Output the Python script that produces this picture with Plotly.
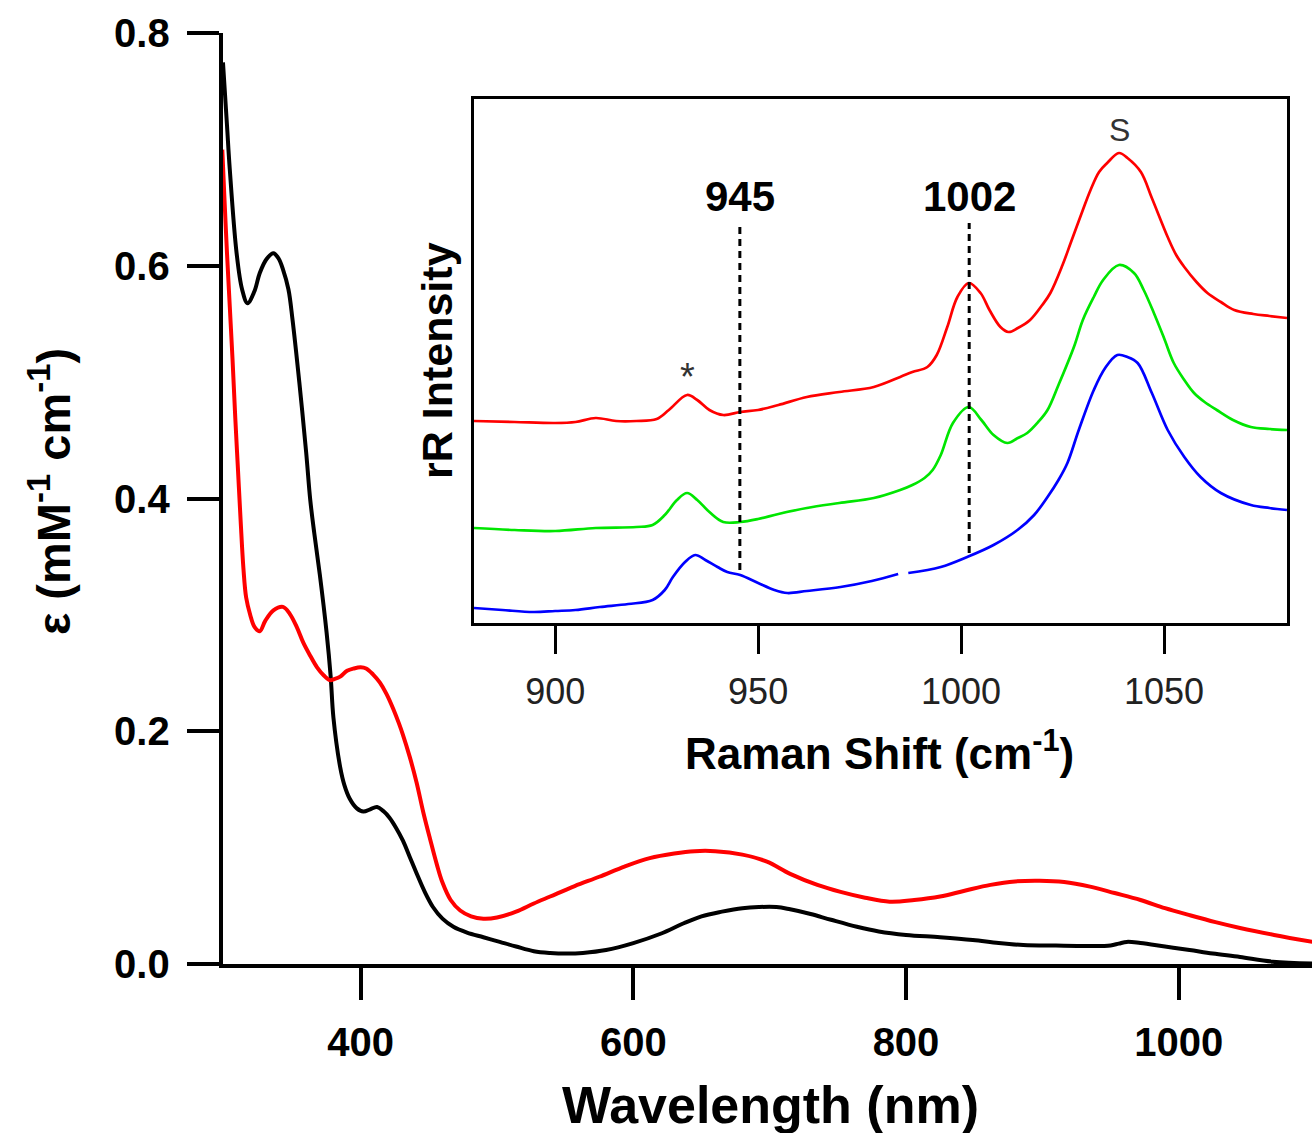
import plotly.graph_objects as go

W, H = 1312, 1133

# ---------------- Main UV-vis data ----------------
wl_black = [299, 302, 304, 309, 313, 317, 322, 326, 331, 336, 340, 343, 347, 350, 355, 360, 363, 366, 370,
            375, 378, 380, 385, 388, 392, 397, 402, 407, 412, 417, 421, 426, 431, 436, 441, 447, 453, 460,
            468, 478, 490, 502, 514, 527, 539, 551, 563, 580, 600, 620, 637, 650, 665, 680, 692, 705, 715,
            730, 745, 764, 780, 800, 825, 849, 868, 886, 910, 935, 950, 956, 962, 972, 990, 1008, 1025,
            1045, 1069, 1098]
eps_black = [0.775, 0.72, 0.683, 0.611, 0.58, 0.568, 0.578, 0.594, 0.606, 0.611, 0.606, 0.597, 0.58, 0.554,
             0.50, 0.44, 0.399, 0.37, 0.335, 0.285, 0.247, 0.212, 0.169, 0.154, 0.142, 0.134, 0.131, 0.133,
             0.135, 0.131, 0.126, 0.117, 0.106, 0.092, 0.078, 0.062, 0.049, 0.039, 0.032, 0.027, 0.023,
             0.019, 0.015, 0.011, 0.0095, 0.009, 0.0095, 0.012, 0.018, 0.026, 0.035, 0.041, 0.045, 0.048,
             0.049, 0.049, 0.047, 0.043, 0.038, 0.032, 0.028, 0.025, 0.023, 0.0206, 0.018, 0.0163, 0.0158,
             0.0155, 0.016, 0.0175, 0.019, 0.018, 0.015, 0.012, 0.009, 0.006, 0.002, 0.0005]

wl_red = [298.5, 300, 302, 304, 306, 308, 310, 312, 314, 316, 319, 322, 326, 330, 336, 343, 348, 353, 358,
          363, 368, 373, 377.5, 381, 385, 390, 395, 400, 404, 409, 414, 419, 424, 428, 431, 436, 441, 446,
          451, 456, 460, 466, 473, 481, 490, 500, 514, 527, 539, 557, 575, 594, 612, 630, 645, 660, 680,
          698, 715, 735, 752, 770, 788, 806, 825, 843, 862, 880, 898, 916, 935, 953, 972, 990, 1008, 1027,
          1045, 1070, 1098]
eps_red = [0.70, 0.66, 0.61, 0.565, 0.52, 0.47, 0.425, 0.38, 0.34, 0.315, 0.30, 0.29, 0.286, 0.295, 0.304,
           0.307, 0.301, 0.29, 0.276, 0.265, 0.255, 0.248, 0.244, 0.245, 0.247, 0.252, 0.254, 0.255, 0.254,
           0.249, 0.242, 0.232, 0.219, 0.207, 0.197, 0.178, 0.156, 0.13, 0.107, 0.085, 0.07, 0.055, 0.046,
           0.041, 0.039, 0.040, 0.045, 0.052, 0.058, 0.067, 0.075, 0.084, 0.091, 0.095, 0.097, 0.097,
           0.094, 0.088, 0.0775, 0.068, 0.062, 0.057, 0.0536, 0.055, 0.058, 0.063, 0.068, 0.071, 0.0716,
           0.0705, 0.0665, 0.061, 0.055, 0.048, 0.042, 0.036, 0.031, 0.025, 0.019]

main_xticks = [400, 600, 800, 1000]
main_yticks = [0.0, 0.2, 0.4, 0.6, 0.8]
main_ytick_labels = ["0.0", "0.2", "0.4", "0.6", "0.8"]

# ---------------- Inset resonance Raman data (arbitrary units) ----------------
rs_red = [880, 890, 900, 905, 910, 915, 920, 925, 928, 932.5, 935, 938, 941.4, 945.6, 950, 955, 962, 970,
          978.5, 985, 988, 991.7, 994, 996.6, 999.1, 1001.9, 1004.8, 1007, 1009.7, 1011.7, 1014, 1017, 1020,
          1022, 1025, 1027, 1030, 1031.9, 1034, 1036, 1038.9, 1041, 1044.3, 1047, 1050.9, 1053, 1055, 1058,
          1060.7, 1064, 1067.3, 1072, 1076, 1080.3]
int_red = [202, 201, 200, 201, 205, 202, 202, 204, 213, 228, 223, 213, 208, 211, 213, 218, 226, 231, 236,
           246, 251, 256, 268, 296, 326, 340, 330, 313, 296, 291, 295, 303, 318, 330, 358, 380, 413, 433, 451,
           460, 470, 465, 451, 425, 386, 368, 356, 341, 330, 321, 313, 309, 307, 305]

rs_green = [880, 890, 900, 910, 920, 924, 927, 930, 932.5, 935, 938, 941.4, 945.6, 950, 955, 962, 970,
            978.5, 985, 988, 991, 993, 995, 998, 1001.9, 1005, 1008, 1011.4, 1014, 1016.3, 1019, 1021.3,
            1024, 1027.8, 1030, 1032.7, 1035, 1038.9, 1042.6, 1045, 1047.5, 1050, 1052.4, 1055, 1057.4,
            1060, 1063, 1067, 1071.4, 1076, 1080.3]
int_green = [95, 93, 92, 95, 96, 98, 108, 123, 130, 123, 111, 101, 101, 104, 109, 115, 120, 125, 133, 138,
             145, 153, 168, 200, 216, 203, 188, 180, 185, 190, 201, 213, 238, 276, 303, 326, 343, 358, 350,
             333, 310, 285, 260, 243, 230, 221, 213, 203, 196, 194, 193]

rs_blue = [880, 887, 894.6, 900, 905, 911, 918, 924, 927, 929, 932, 934.5, 937, 940, 942.4, 945.6, 950, 954,
           957.2, 962, 970.3, 978, 984.5, None, 987, 995, 1001.5, 1008, 1013.9, 1018, 1021.3, 1024, 1026.2,
           1029, 1032.7, 1035.5, 1038.5, 1041, 1043.5, 1047, 1050.9, 1055, 1059, 1064, 1071.4, 1076, 1080.3]
int_blue = [15, 13, 11, 12, 13, 16, 19, 23, 33, 46, 61, 68, 63, 56, 51, 48, 40, 33, 30, 32, 36, 42, 49, None,
            50, 56, 66, 78, 93, 108, 126, 143, 160, 193, 233, 255, 268, 266, 260, 230, 193, 166, 146, 130,
            118, 115, 113]

inset_xticks = [900, 950, 1000, 1050]
marker_lines = [945.5, 1002]
marker_labels = ["945", "1002"]
marker_line_ranges = [(53, 398), (70, 400)]


def px_x(p):
    return p / W


def px_y(p):
    return 1 - p / H


FONT = "Liberation Sans, Arial, sans-serif"

fig = go.Figure()
fig.add_trace(go.Scatter(x=wl_black, y=eps_black, mode="lines", line=dict(color="black", width=4),
                         line_shape="spline", xaxis="x", yaxis="y", showlegend=False))
fig.add_trace(go.Scatter(x=wl_red, y=eps_red, mode="lines", line=dict(color="#ff0000", width=4),
                         line_shape="spline", xaxis="x", yaxis="y", showlegend=False))

fig.add_trace(go.Scatter(x=rs_red, y=int_red, mode="lines", line=dict(color="#ff0000", width=2.7),
                         line_shape="spline", xaxis="x2", yaxis="y2", showlegend=False))
fig.add_trace(go.Scatter(x=rs_green, y=int_green, mode="lines", line=dict(color="#00e600", width=2.7),
                         line_shape="spline", xaxis="x2", yaxis="y2", showlegend=False))
fig.add_trace(go.Scatter(x=rs_blue, y=int_blue, mode="lines", line=dict(color="#0000ff", width=2.7),
                         line_shape="spline", xaxis="x2", yaxis="y2", showlegend=False, connectgaps=False))

shapes = []
for xv, (y0, y1) in zip(marker_lines, marker_line_ranges):
    shapes.append(dict(type="line", xref="x2", yref="y2", x0=xv, x1=xv, y0=y0, y1=y1,
                       line=dict(color="black", width=3, dash="7px,5px")))

annotations = []
for xv, lab in zip(marker_lines, marker_labels):
    annotations.append(dict(x=xv, y=426, xref="x2", yref="y2", text=lab, showarrow=False,
                            font=dict(family=FONT, size=42, color="black", weight="bold"),
                            xanchor="center", yanchor="middle"))
annotations.append(dict(x=1039, y=493, xref="x2", yref="y2", text="S", showarrow=False,
                        font=dict(family=FONT, size=32, color="#333333"), xanchor="center", yanchor="middle"))
annotations.append(dict(x=932.5, y=246, xref="x2", yref="y2", text="*", showarrow=False,
                        font=dict(family=FONT, size=38, color="#333333"), xanchor="center", yanchor="middle"))
# axis titles
annotations.append(dict(x=px_x(770), y=px_y(1105), xref="paper", yref="paper", text="Wavelength (nm)",
                        showarrow=False, font=dict(family=FONT, size=52, color="black", weight="bold"),
                        xanchor="center", yanchor="middle"))
annotations.append(dict(x=px_x(50), y=px_y(492), xref="paper", yref="paper",
                        text="ε (mM<sup>-1</sup> cm<sup>-1</sup>)", textangle=-90,
                        showarrow=False, font=dict(family=FONT, size=47, color="black", weight="bold"),
                        xanchor="center", yanchor="middle"))
annotations.append(dict(x=px_x(879), y=px_y(750), xref="paper", yref="paper",
                        text="Raman Shift (cm<sup>-1</sup>)",
                        showarrow=False, font=dict(family=FONT, size=44, color="black", weight="bold"),
                        xanchor="center", yanchor="middle"))
annotations.append(dict(x=px_x(437), y=px_y(361), xref="paper", yref="paper",
                        text="rR Intensity", textangle=-90,
                        showarrow=False, font=dict(family=FONT, size=43, color="black", weight="bold"),
                        xanchor="center", yanchor="middle"))

fig.update_layout(
    template="none",
    width=W, height=H, autosize=False,
    margin=dict(l=0, r=0, t=0, b=0, pad=0, autoexpand=False),
    paper_bgcolor="white", plot_bgcolor="white", showlegend=False,
    shapes=shapes, annotations=annotations,
    xaxis=dict(domain=[px_x(222.7), 1.0], range=[298.8, 1097.8], anchor="y", automargin=False,
               showline=True, linewidth=4, linecolor="black", mirror=False,
               ticks="outside", ticklen=32, tickwidth=4, tickcolor="black",
               tickvals=main_xticks, showgrid=False, zeroline=False, ticklabelstandoff=8,
               tickfont=dict(family=FONT, size=40, color="black", weight="bold")),
    yaxis=dict(domain=[px_y(964), px_y(33.3)], range=[0, 0.8], anchor="x", automargin=False,
               showline=True, linewidth=4, linecolor="black",
               ticks="outside", ticklen=32, tickwidth=4, tickcolor="black",
               tickvals=main_yticks, ticktext=main_ytick_labels, showgrid=False, zeroline=False,
               ticklabelstandoff=9,
               tickfont=dict(family=FONT, size=40, color="black", weight="bold")),
    xaxis2=dict(domain=[px_x(474), px_x(1287)], range=[880, 1080.3], anchor="y2", automargin=False,
                showline=True, linewidth=2.5, linecolor="black", mirror=True,
                ticks="outside", ticklen=28, tickwidth=2.5, tickcolor="black",
                tickvals=inset_xticks, showgrid=False, zeroline=False, ticklabelstandoff=7,
                tickfont=dict(family=FONT, size=36, color="#222222")),
    yaxis2=dict(domain=[px_y(623), px_y(99)], range=[0, 524], anchor="x2", automargin=False,
                showline=True, linewidth=2.5, linecolor="black", mirror=True,
                ticks="", showticklabels=False, showgrid=False, zeroline=False),
)

fig.write_html("out.html", config={"displayModeBar": False},
               post_script="document.body.style.margin='0';document.body.style.overflow='hidden';")
